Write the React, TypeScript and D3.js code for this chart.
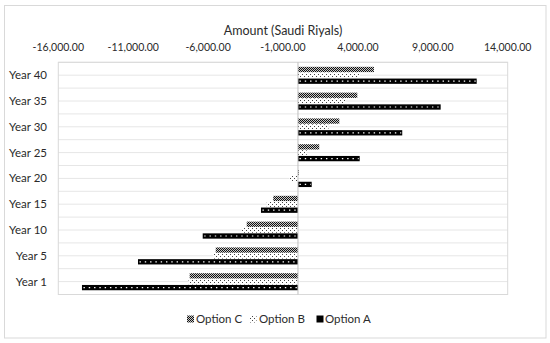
import React from 'react';
import * as d3 from 'd3';

const categories = ['Year 1', 'Year 5', 'Year 10', 'Year 15', 'Year 20', 'Year 25', 'Year 30', 'Year 35', 'Year 40'];
const optionA = [-14420, -10680, -6360, -2470, 915, 4120, 6960, 9525, 11930];
const optionB = [-7300, -5660, -3750, -2080, -580, 580, 2030, 3180, 4140];
const optionC = [-7230, -5490, -3420, -1650, 50, 1420, 2760, 3960, 5070];
const tickValues = [-16000, -11000, -6000, -1000, 4000, 9000, 14000];
const seriesNames = ['Option C', 'Option B', 'Option A'];

const width = 550;
const height = 343;
const margin = { left: 58.3, right: 42.3, top: 62.3, bottom: 48.5 };
const font = 'Lato, "Open Sans", sans-serif';
const textColor = '#2b2b2b';

const App = () => {
  const x = d3
    .scaleLinear()
    .domain([-16000, 14000])
    .range([margin.left, width - margin.right]);

  // Excel draws the first category at the bottom
  const y = d3
    .scaleBand()
    .domain(categories.slice().reverse())
    .range([margin.top, height - margin.bottom]);

  const bw = y.bandwidth();
  const inner = d3
    .scaleBand()
    .domain(seriesNames)
    .range([bw * 0.175, bw * 0.835])
    .paddingInner(0.1);

  const values = { 'Option A': optionA, 'Option B': optionB, 'Option C': optionC };
  const fills = { 'Option A': '#000', 'Option B': 'url(#patB)', 'Option C': 'url(#patC)' };

  const [x0, x1] = x.range();
  const [y0, y1] = y.range();
  const gridYs = d3.range(0, categories.length * 2 + 1).map((k) => y0 + (k * bw) / 2);

  const legendItems = [
    { name: 'Option C', mx: 187, tx: 196 },
    { name: 'Option B', mx: 249.5, tx: 259 },
    { name: 'Option A', mx: 316.5, tx: 325 },
  ];
  const legendY = 319;

  return (
    <svg width={width} height={height} style={{ position: 'absolute', left: 0, top: 0 }}>
      <defs>
        <pattern id="patC" width={2} height={2} patternUnits="userSpaceOnUse">
          <rect width={2} height={2} fill="#c8c8c8" />
          <rect x={0} y={0} width={1} height={1} fill="#111" />
          <rect x={1} y={1} width={1} height={1} fill="#111" />
        </pattern>
        <pattern id="patB" width={4} height={4} patternUnits="userSpaceOnUse">
          <rect width={4} height={4} fill="#fff" />
          <rect x={0} y={0} width={1} height={1} fill="#444" />
          <rect x={2} y={2} width={1} height={1} fill="#444" />
        </pattern>
      </defs>

      <rect x={0} y={0} width={width} height={height} fill="#fff" />
      <rect x={4.5} y={5.5} width={541.5} height={332.5} fill="#fff" stroke="#d9d9d9" />

      {gridYs.map((gy, i) => (
        <line key={i} x1={x0} x2={x1} y1={gy} y2={gy} stroke="#e6e6e6" strokeWidth={1} />
      ))}
      <rect x={x0} y={y0} width={x1 - x0} height={y1 - y0} fill="none" stroke="#d9d9d9" />

      {seriesNames.map((s) =>
        categories.map((c, i) => {
          const v = values[s][i];
          const bx = Math.min(x(0), x(v));
          const w = Math.abs(x(v) - x(0));
          const by = (y(c) as number) + (inner(s) as number);
          const bh = inner.bandwidth();
          return (
            <g key={s + c}>
              <rect x={bx} y={by} width={w} height={bh} fill={fills[s]} />
              {s === 'Option A' && (
                <line
                  x1={bx + 1.5}
                  x2={bx + w - 1}
                  y1={by + bh / 2}
                  y2={by + bh / 2}
                  stroke="#fff"
                  strokeWidth={1.2}
                  strokeDasharray="1.4 3.9"
                />
              )}
            </g>
          );
        })
      )}

      <line x1={x(0)} x2={x(0)} y1={y0} y2={y1} stroke="#bfbfbf" />

      <text x={(x0 + x1) / 2} y={35} textAnchor="middle" fontFamily={font} fontSize={12.5} fill={textColor}>
        Amount (Saudi Riyals)
      </text>

      {tickValues.map((t) => (
        <text key={t} x={x(t)} y={50.5} textAnchor="middle" fontFamily={font} fontSize={10.5} fill={textColor}>
          {d3.format(',.2f')(t).replace('−', '-')}
        </text>
      ))}

      {categories.map((c) => (
        <text
          key={c}
          x={47}
          y={(y(c) as number) + bw / 2}
          dy="0.35em"
          textAnchor="end"
          fontFamily={font}
          fontSize={11.5}
          fill={textColor}
        >
          {c}
        </text>
      ))}

      {legendItems.map((l) => (
        <g key={l.name}>
          <rect
            x={l.mx}
            y={legendY - 3.5}
            width={7}
            height={7}
            fill={l.name === 'Option A' ? '#000' : l.name === 'Option B' ? 'url(#patB)' : 'url(#patC)'}
          />
          <text x={l.tx} y={legendY} dy="0.35em" fontFamily={font} fontSize={11.5} fill={textColor}>
            {l.name}
          </text>
        </g>
      ))}
    </svg>
  );
};

export default App;
